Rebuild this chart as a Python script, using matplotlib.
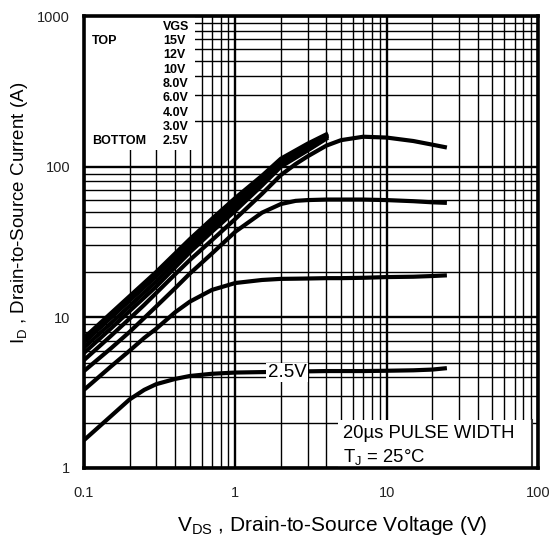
import matplotlib
matplotlib.use("Agg")
import matplotlib.pyplot as plt
from matplotlib.patches import Rectangle
from matplotlib.ticker import FixedLocator, NullFormatter, LogLocator

plt.rcParams['font.family'] = ['Liberation Sans', 'DejaVu Sans']
plt.rcParams['mathtext.default'] = 'regular'

# VDS points (V)
vds_sat = [0.1, 0.15, 0.2, 0.25, 0.3, 0.4, 0.5, 0.7, 1.0, 1.5, 2.0, 2.5, 3.0, 4.0, 5.0, 7.0, 10, 15, 20, 25]
vds_lin = [0.1, 0.15, 0.2, 0.3, 0.5, 0.7, 1.0, 1.5, 2.0, 3.0, 4.1]

# ID (A) per gate voltage
id_15v = [7.3, 10.6, 13.8, 20.0, 33.0, 45.0, 62.0, 87.0, 113, 142, 166]
id_12v = [6.8, 9.9, 12.9, 18.7, 31.0, 42.0, 58.0, 83.0, 108, 138, 163]
id_10v = [6.3, 9.1, 11.9, 17.3, 29.0, 39.5, 54.5, 79.0, 104, 133, 160]
id_8v = [5.8, 8.4, 11.0, 16.0, 27.0, 37.0, 51.0, 75.0, 100, 128, 156]
id_6v = [5.2, 7.5, 9.8, 12.1, 14.5, 19.3, 24.0, 32.5, 45.0, 66.0, 88.0, 104, 117, 138, 150, 158, 156, 148, 140, 134]
id_4v = [4.4, 6.2, 8.0, 9.9, 11.8, 15.6, 19.5, 26.5, 37.0, 49.5, 56.5, 59.3, 60.0, 60.5, 60.5, 60.5, 60.0, 59.0, 58.0, 57.5]
id_3v = [3.3, 4.7, 6.0, 7.3, 8.4, 10.8, 12.7, 15.2, 16.9, 17.7, 18.0, 18.05, 18.1, 18.2, 18.2, 18.3, 18.5, 18.6, 18.8, 19.0]
id_25v = [1.53, 2.2, 2.85, 3.3, 3.6, 3.9, 4.08, 4.22, 4.3, 4.33, 4.35, 4.36, 4.38, 4.4, 4.4, 4.4, 4.42, 4.45, 4.5, 4.6]

vgs_labels = ["VGS", "15V", "12V", "10V", "8.0V", "6.0V", "4.0V", "3.0V", "2.5V"]

fig = plt.figure(figsize=(5.5, 5.37), dpi=100)
ax = fig.add_axes([0.1527, 0.1285, 0.8255, 0.8417])
ax.set_xscale('log')
ax.set_yscale('log')
ax.set_xlim(0.1, 100)
ax.set_ylim(1, 1000)

# curves
for ys in [id_15v, id_12v, id_10v, id_8v]:
    ax.plot(vds_lin, ys, color='black', lw=3.0, solid_capstyle='butt', zorder=4)
for ys in [id_6v, id_4v, id_3v, id_25v]:
    ax.plot(vds_sat, ys, color='black', lw=3.0, solid_capstyle='butt', zorder=4)

# grid
ax.xaxis.set_major_locator(FixedLocator([0.1, 1, 10, 100]))
ax.yaxis.set_major_locator(FixedLocator([1, 10, 100, 1000]))
ax.xaxis.set_minor_locator(LogLocator(base=10, subs=range(2, 10)))
ax.yaxis.set_minor_locator(LogLocator(base=10, subs=range(2, 10)))
ax.xaxis.set_minor_formatter(NullFormatter())
ax.yaxis.set_minor_formatter(NullFormatter())
ax.set_xticklabels(["0.1", "1", "10", "100"])
ax.set_yticklabels(["1", "10", "100", "1000"])
ax.grid(True, which='major', color='black', lw=1.7, zorder=1)
ax.grid(True, which='minor', color='black', lw=1.0, zorder=1)
ax.tick_params(which='both', length=0)
ax.tick_params(axis='x', pad=13, labelsize=10.5, labelcolor='#222222')
ax.tick_params(axis='y', pad=10, labelsize=10.5, labelcolor='#222222')
for s in ax.spines.values():
    s.set_linewidth(2.6)
    s.set_zorder(6)

ax.set_xlabel(r'$V_{DS}$ , Drain-to-Source Voltage (V)', fontsize=15, va='center')
ax.set_ylabel(r'$I_D$ , Drain-to-Source Current (A)', fontsize=13.5, va='center')
ax.xaxis.set_label_coords(0.546, -0.128)
ax.yaxis.set_label_coords(-0.141, 0.564)

# legend box (top-left)
ax.add_patch(Rectangle((0, 0.703), 0.245, 0.3, transform=ax.transAxes,
                       facecolor='white', edgecolor='none', zorder=3))
bold_font = ['Liberation Sans Narrow', 'Liberation Sans', 'DejaVu Sans']
for i, lab in enumerate(vgs_labels):
    ax.text(0.174, 0.976 - i * 0.0316, lab, transform=ax.transAxes, fontsize=9,
            fontweight='bold', family=bold_font, va='center', ha='left', zorder=5)
ax.text(0.018, 0.945, "TOP", transform=ax.transAxes, fontsize=9,
        fontweight='bold', family=bold_font, va='center', ha='left', zorder=5)
ax.text(0.018, 0.723, "BOTTOM", transform=ax.transAxes, fontsize=9,
        fontweight='bold', family=bold_font, va='center', ha='left', zorder=5)

# conditions box (bottom-right)
ax.add_patch(Rectangle((0.559, 0.0), 0.428, 0.106, transform=ax.transAxes,
                       facecolor='white', edgecolor='none', zorder=3))
ax.plot([0.987, 0.987], [0.0, 0.106], transform=ax.transAxes, color='#333333', lw=1.5, zorder=5)
ax.text(0.570, 0.077, "20µs PULSE WIDTH", transform=ax.transAxes, fontsize=13.3,
        va='center', ha='left', zorder=5)
ax.text(0.570, 0.024, r"$T_J$ = 25°C", transform=ax.transAxes, fontsize=13.3,
        va='center', ha='left', zorder=5)

# curve label
ax.text(2.2, 4.3, "2.5V", fontsize=13.5, ha='center', va='center', zorder=5,
        bbox=dict(facecolor='white', edgecolor='none', pad=1.0))

fig.savefig("out.png", dpi=100)
